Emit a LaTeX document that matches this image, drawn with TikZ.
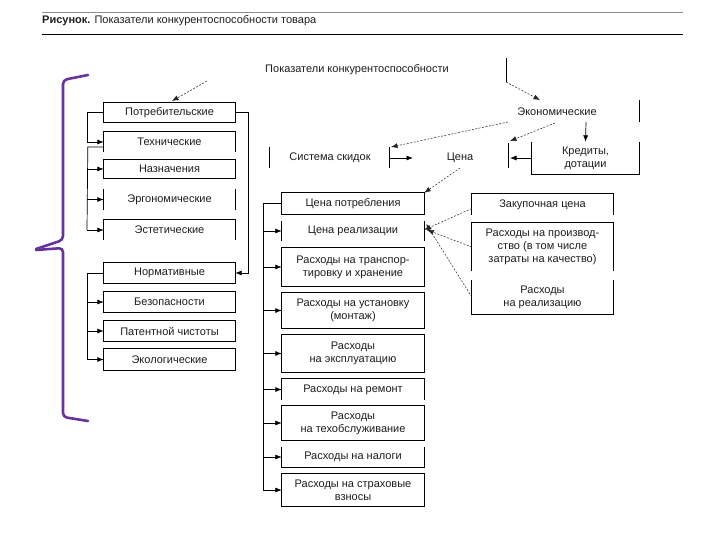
\documentclass[tikz,border=0pt]{standalone}
\usepackage{fontspec}
\setmainfont{Liberation Sans}
\usetikzlibrary{arrows.meta}
\definecolor{bracecol}{RGB}{104,52,156}
\definecolor{txt}{RGB}{30,30,30}
\begin{document}
\begin{tikzpicture}[x=1pt,y=-1pt,
  lbl/.style={font=\fontsize{11}{12.8}\selectfont, text=txt, align=center, inner sep=0pt},
  lb/.style={lbl, minimum width=131pt},
  rb/.style={lbl, minimum width=142pt},
  fb/.style={lbl, minimum width=141pt},
  edge/.style={line width=0.7pt, draw=black},
  arr/.style={edge, -{Latex[length=6.5pt,width=5pt]}},
  darr/.style={line width=0.5pt, draw=black!85, dash pattern=on 2pt off 1.5pt, -{Latex[length=6.5pt,width=5pt]}},
  brace/.style={line width=2.6pt, draw=bracecol, rounded corners=4pt, line cap=round}
]
\useasboundingbox (0,0) rectangle (720,540);
\fill[white] (0,0) rectangle (720,540);

% caption
\draw[line width=0.4pt, black!45] (42,12) -- (683,12);
\node[lbl, anchor=west] (cap) at (42,21) {\textbf{Рисунок.} Показатели конкурентоспособности товара};
\draw[line width=0.8pt] (42,34) -- (683,34);

% purple brace
\draw[brace] (88,75) -- (63,80) -- (63,240) -- (36,249);
\draw[brace] (36,250) -- (63,248) -- (63,417) -- (88,421);

% title
\node[lbl] (title) at (357,70) {Показатели конкурентоспособности};

% left column
\node[lb, minimum height=19pt] (potr) at (169.5,112.5) {Потребительские};
\node[lb, minimum height=20pt] (tech) at (169.5,142) {Технические};
\node[lb, minimum height=18pt] (nazn) at (169.5,169) {Назначения};
\node[lb, minimum height=21pt] (ergo) at (169.5,199.5) {Эргономические};
\node[lb, minimum height=20pt] (est)  at (169.5,230) {Эстетические};
\node[lb, minimum height=20pt] (norm) at (169.5,273) {Нормативные};
\node[lb, minimum height=20pt] (bez)  at (169.5,302) {Безопасности};
\node[lb, minimum height=20pt] (pat)  at (169.5,331) {Патентной чистоты};
\node[lb, minimum height=21pt] (eko)  at (169.5,359.5) {Экологические};

\draw[edge] (potr.north west) rectangle (potr.south east);
\draw[edge] (tech.south west) -- (tech.north west) -- (tech.north east) -- (tech.south east);
\draw[edge] (nazn.north west) rectangle (nazn.south east);
\draw[edge] (ergo.south west) -- (ergo.north west) (ergo.north east) -- (ergo.south east);
\draw[edge] (est.south west) -- (est.north west) -- (est.north east) -- (est.south east);
\draw[edge] (norm.north west) rectangle (norm.south east);
\draw[edge] (bez.north west) rectangle (bez.south east);
\draw[edge] (pat.north west) rectangle (pat.south east);
\draw[edge] (eko.north west) rectangle (eko.south east);

% left connectors
\draw[arr] (potr.west) -- (87,112.5) |- (tech.west);
\draw[edge] ([yshift=-5pt]tech.west) -- ++(-16,0) coordinate (tv) -- (87,230);
\draw[arr] (87,169) -- (nazn.west);
\draw[arr] (87,199.5) -- (ergo.west);
\draw[arr] (87,230) -- (est.west);
\draw[arr] (potr.east) -- (248,112.5) |- (norm.east);
\draw[edge] (norm.west) -- (87,273) -- (87,359.5);
\draw[arr] (87,302) -- (bez.west);
\draw[arr] (87,331) -- (pat.west);
\draw[arr] (87,359.5) -- (eko.west);

% central column
\node[rb, minimum height=21pt] (cpot) at (353,203.5) {Цена потребления};
\node[rb, minimum height=20pt] (creal) at (353,231) {Цена реализации};
\node[rb, minimum height=38pt] (trans) at (353,267) {Расходы на транспор-\\тировку и хранение};
\node[rb, minimum height=35pt] (ust) at (353,310.5) {Расходы на установку\\(монтаж)};
\node[rb, minimum height=37pt] (expl) at (353,353.5) {Расходы\\на эксплуатацию};
\node[rb, minimum height=21pt] (rem) at (353,389.5) {Расходы на ремонт};
\node[rb, minimum height=34pt] (tob) at (353,423) {Расходы\\на техобслуживание};
\node[rb, minimum height=20pt] (nal) at (353,457) {Расходы на налоги};
\node[rb, minimum height=32pt] (str) at (353,490) {Расходы на страховые\\взносы};

\draw[edge] (cpot.north west) rectangle (cpot.south east);
\draw[edge] (creal.south west) -- (creal.north west) (creal.north east) -- (creal.south east);
\draw[edge] (trans.north west) rectangle (trans.south east);
\draw[edge] (ust.north west) rectangle (ust.south east);
\draw[edge] (expl.north west) rectangle (expl.south east);
\draw[edge] (rem.south west) -- (rem.north west) -- (rem.north east) -- (rem.south east);
\draw[edge] (tob.north west) rectangle (tob.south east);
\draw[edge] (nal.north west) -- (nal.south west) -- (nal.south east) -- (nal.north east);
\draw[edge] (str.north west) rectangle (str.south east);

\draw[edge] (cpot.west) -- (263,203.5) -- (263,490);
\foreach \n/\y in {creal/231, trans/267, ust/310.5, expl/353.5, rem/389.5, tob/423, nal/457, str/490}
  \draw[arr] (263,\y) -- (\n.west);

% far right column
\node[fb, minimum height=21pt] (zak) at (542.5,204.5) {Закупочная цена};
\node[fb, minimum height=48pt] (proizv) at (542.5,247) {Расходы на производ-\\ство (в том числе\\затраты на качество)};
\node[fb, minimum height=34pt] (rreal) at (542.5,297) {Расходы\\на реализацию};

\draw[edge] (zak.south west) -- (zak.north west) -- (zak.north east) -- (zak.south east);
\draw[edge] (proizv.south west) -- (proizv.north west) -- (proizv.north east) -- (proizv.south east);
\draw[edge] (rreal.north west) -- (rreal.south west) -- (rreal.south east) -- (rreal.north east);

\draw[darr] ([yshift=-4pt]zak.west) -- ([yshift=-9pt]creal.north east);
\draw[darr] (proizv.west) -- ([xshift=3pt,yshift=1pt]creal.east);
\draw[darr] (rreal.west) -- ([xshift=2pt,yshift=7pt]creal.east);

% economic part
\node[lbl] (econ) at (557,112) {Экономические};
\node[lbl] (cena) at (460,158) {Цена};
\node[lbl] (skid) at (330,158) {Система скидок};
\node[lbl, minimum width=107pt, minimum height=32pt] (kred) at (585.5,158) {Кредиты,\\дотации};
\draw[edge] (kred.north west) -- (kred.south west) -- (kred.south east) -- (kred.north east);
\draw[edge] (639,100) -- (639,122);

\coordinate (b1t) at (269,147); \coordinate (b1b) at (269,168);
\coordinate (b2t) at (389,147); \coordinate (b2b) at (389,168);
\coordinate (b3t) at (508,143); \coordinate (b3b) at (508,168);
\draw[edge] (b1t) -- (b1b);
\draw[edge] (b2t) -- (b2b);
\draw[edge] (b3t) -- (b3b);

\draw[arr] (389,158) -- (413,158);
\draw[arr] (kred.west) -- (510,158);
\draw[arr] (586,122) -- (kred.north);

\coordinate (e1) at (508,122);
\coordinate (e2) at (555,123);
\draw[darr] (e1) -- ([xshift=2pt]b2t);
\draw[darr] (e2) -- ([xshift=2pt,yshift=2pt]b3t);
\draw[darr] (cena.south) ++(0,5) -- (cpot.north east);

% top arrows
\coordinate (t1) at (207,81);
\draw[darr] (t1) -- (172,101);
\coordinate (t2) at (506,58);
\coordinate (t3) at (506,82);
\draw[edge] (t2) -- (t3);
\draw[darr] (t3) -- (540,100);
\end{tikzpicture}
\end{document}
